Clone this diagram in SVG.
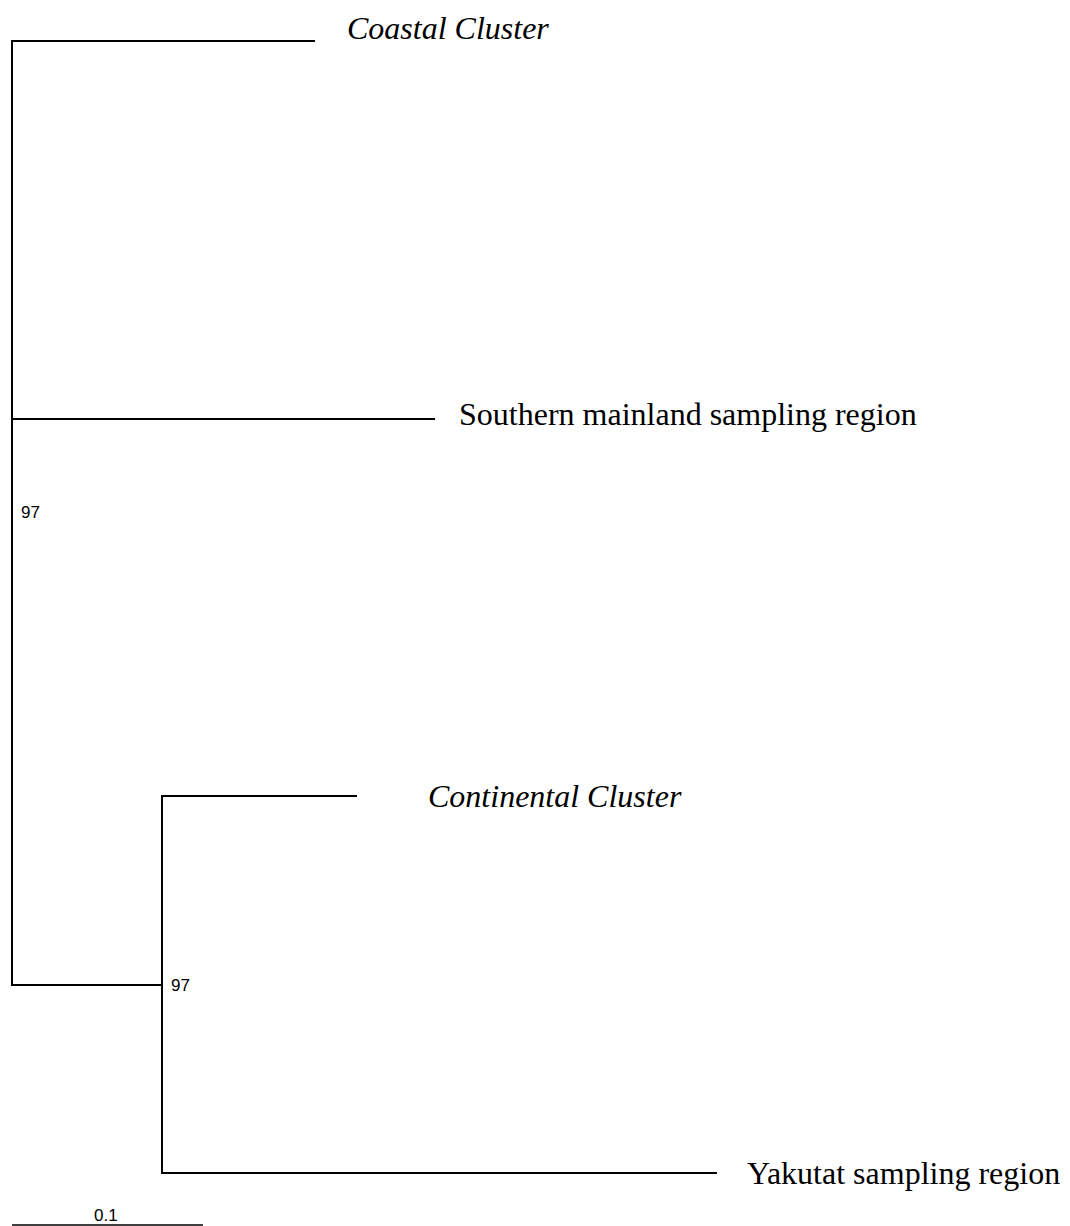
<svg xmlns="http://www.w3.org/2000/svg" width="1070" height="1226" viewBox="0 0 1070 1226">
<style>
.br{stroke:#000;stroke-width:2;fill:none}
.lab{font-family:"Liberation Serif","Times New Roman",serif;font-size:32px;fill:#000}
.it{font-style:italic}
.sup{font-family:"Liberation Sans",Arial,sans-serif;font-size:17px;fill:#000}
</style>
<rect width="1070" height="1226" fill="#fff"/>
<g id="connectors">
<path class="br" d="M315,41 H12 V985 H162"/>
<path class="br" d="M12,419 H435"/>
<path class="br" d="M357,796 H162 V1173 H717"/>
<path class="br" d="M12,1225 H203" style="stroke-width:1.5"/>
</g>
<g id="coastal"><text class="lab it" x="347" y="39">Coastal Cluster</text></g>
<g id="southern"><text class="lab" x="459" y="425">Southern mainland sampling region</text></g>
<g id="continental"><text class="lab it" x="428" y="807">Continental Cluster</text></g>
<g id="yakutat"><text class="lab" x="747" y="1184">Yakutat sampling region</text></g>
<g id="support1"><text class="sup" x="21" y="518">97</text></g>
<g id="support2"><text class="sup" x="171" y="991">97</text></g>
<g id="scale"><text class="sup" x="94" y="1221">0.1</text></g>
</svg>
